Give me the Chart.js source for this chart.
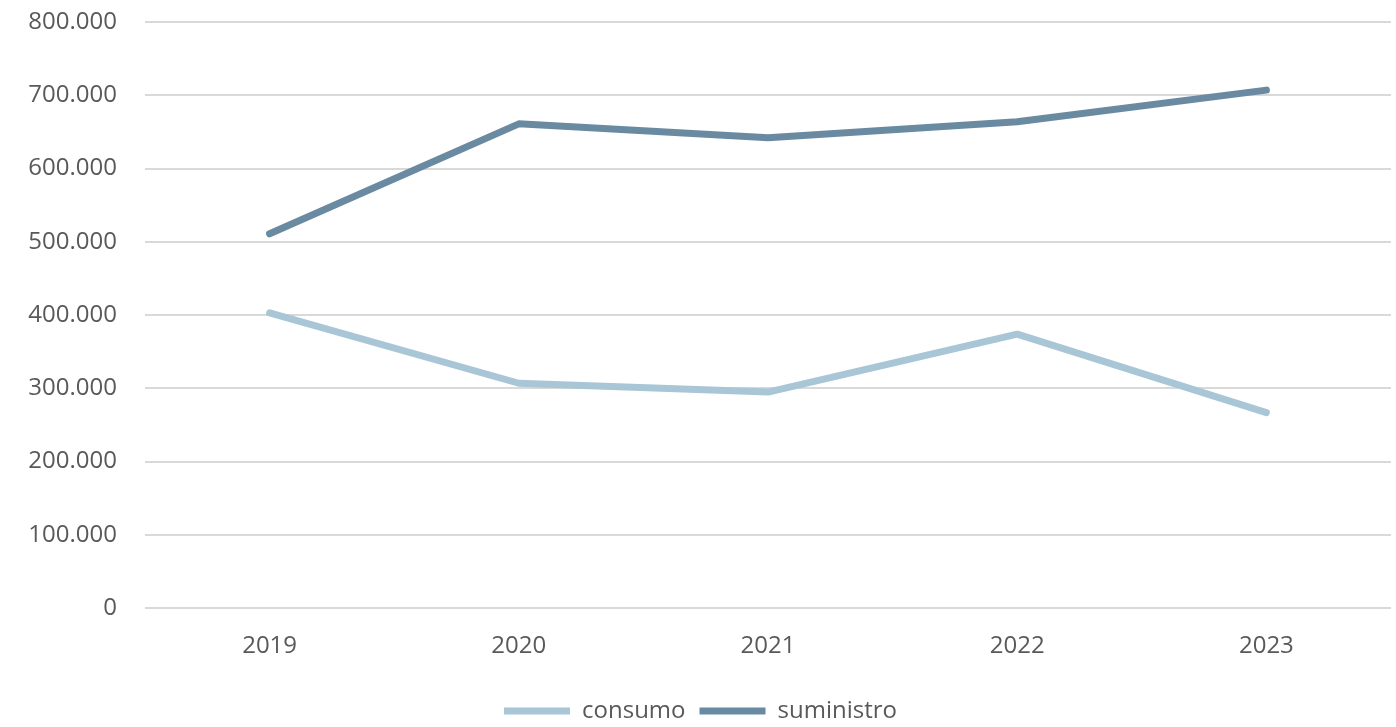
<!DOCTYPE html>
<html>
<head>
<meta charset="utf-8">
<script src="https://cdn.jsdelivr.net/npm/chart.js@4"></script>
<style>
  html, body { margin: 0; padding: 0; background: #fff; }
  #wrap { width: 1396px; height: 727px; }
</style>
</head>
<body>
<div id="wrap"><canvas id="chart" width="1396" height="727"></canvas></div>
<script>
'use strict';

const years = ['2019', '2020', '2021', '2022', '2023'];
const consumo = [403000, 307000, 295000, 374000, 267000];
const suministro = [511000, 661000, 642000, 664000, 707000];
const yTicks = [0, 100000, 200000, 300000, 400000, 500000, 600000, 700000, 800000];

const textColor = '#595959';
const fontFamily = '"Open Sans", Lato, sans-serif';

function formatThousands(value) {
  return String(value).replace(/\B(?=(\d{3})+(?!\d))/g, '.');
}

const chartContext = document.querySelector('#chart').getContext('2d');

const chartConfig = {
  type: 'line',
  data: {
    labels: years,
    datasets: [
      {
        label: 'consumo',
        data: consumo,
        borderColor: '#a8c6d6',
        backgroundColor: '#a8c6d6',
        borderWidth: 7,
        borderCapStyle: 'round',
        borderJoinStyle: 'round',
        pointRadius: 0,
        tension: 0,
      },
      {
        label: 'suministro',
        data: suministro,
        borderColor: '#6a8aa2',
        backgroundColor: '#6a8aa2',
        borderWidth: 7,
        borderCapStyle: 'round',
        borderJoinStyle: 'round',
        pointRadius: 0,
        tension: 0,
      }
    ]
  },
  options: {
    responsive: false,
    animation: false,
    layout: {
      padding: { left: 10, right: 5, top: 22, bottom: -6 }
    },
    plugins: {
      legend: {
        position: 'bottom',
        labels: {
          usePointStyle: true,
          pointStyle: 'line',
          pointStyleWidth: 66,
          color: textColor,
          padding: 14,
          font: { family: fontFamily, size: 24 }
        }
      },
      tooltip: { enabled: false }
    },
    scales: {
      x: {
        offset: true,
        grid: { display: false, drawTicks: false },
        border: { display: false },
        ticks: {
          color: textColor,
          padding: 24,
          font: { family: fontFamily, size: 24 }
        }
      },
      y: {
        min: 0,
        max: 800000,
        afterFit: (scale) => {
          scale.width = 135;
          scale.paddingTop = 0;
        },
        afterBuildTicks: (scale) => {
          scale.ticks = yTicks.map((v) => ({ value: v }));
        },
        grid: { color: '#d9d9d9', lineWidth: 2, drawTicks: false },
        border: { display: false },
        ticks: {
          color: textColor,
          padding: 28,
          font: { family: fontFamily, size: 24 },
          callback: (value) => formatThousands(value)
        }
      }
    }
  }
};

const chart = new Chart(chartContext, chartConfig);
</script>
</body>
</html>
